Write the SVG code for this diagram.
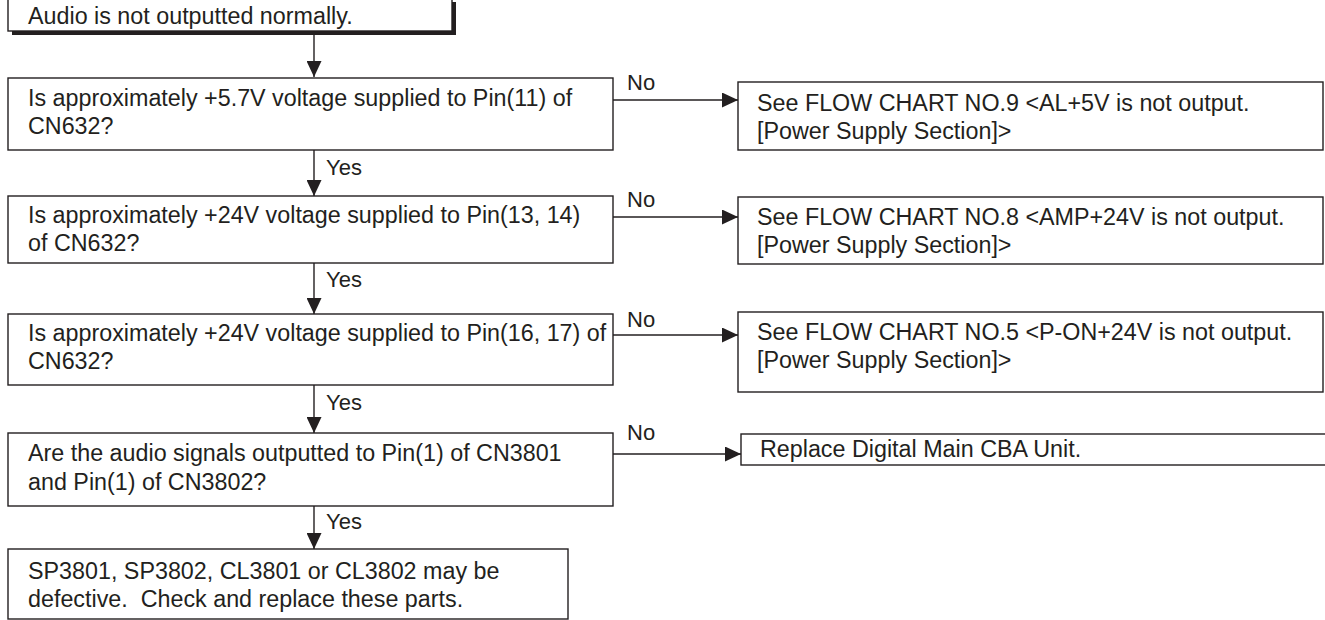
<svg xmlns="http://www.w3.org/2000/svg" width="1325" height="620" viewBox="0 0 1325 620">
<style>
.box{fill:#fff;stroke:#231f20;stroke-width:1.4}
.t{font-family:"Liberation Sans",Arial,sans-serif;font-size:23.3px;fill:#231f20}
.l{font-family:"Liberation Sans",Arial,sans-serif;font-size:22px;fill:#231f20}
.c{stroke:#231f20;stroke-width:1.4;fill:none}
</style>
<defs>
<marker id="ah" viewBox="0 0 16 15" refX="16" refY="7.5" markerWidth="16" markerHeight="15" markerUnits="userSpaceOnUse" orient="auto">
<path d="M0,0 L16,7.5 L0,15 Z" fill="#231f20"/>
</marker>
</defs>
<rect width="1325" height="620" fill="#fff"/>
<g id="connectors">
<line class="c" x1="314" y1="35" x2="314" y2="77" marker-end="url(#ah)"/>
<line class="c" x1="314" y1="150" x2="314" y2="196" marker-end="url(#ah)"/>
<line class="c" x1="314" y1="263" x2="314" y2="314" marker-end="url(#ah)"/>
<line class="c" x1="314" y1="385" x2="314" y2="433" marker-end="url(#ah)"/>
<line class="c" x1="314" y1="506" x2="314" y2="549" marker-end="url(#ah)"/>
<line class="c" x1="613" y1="100" x2="738" y2="100" marker-end="url(#ah)"/>
<line class="c" x1="613" y1="217" x2="738" y2="217" marker-end="url(#ah)"/>
<line class="c" x1="613" y1="335" x2="738" y2="335" marker-end="url(#ah)"/>
<line class="c" x1="613" y1="454" x2="741" y2="454" marker-end="url(#ah)"/>
<text class="l" x="326" y="175">Yes</text>
<text class="l" x="326" y="287">Yes</text>
<text class="l" x="326" y="410">Yes</text>
<text class="l" x="326" y="529">Yes</text>
<text class="l" x="627" y="90">No</text>
<text class="l" x="627" y="207">No</text>
<text class="l" x="627" y="327">No</text>
<text class="l" x="627" y="440">No</text>
</g>
<g id="start">
<rect x="12" y="2" width="444" height="33" fill="#231f20"/>
<rect class="box" x="8" y="-3" width="444" height="34"/>
<text class="t" x="28" y="24">Audio is not outputted normally.</text>
</g>
<g id="q1">
<rect class="box" x="8" y="78" width="605" height="72"/>
<text class="t" x="28" y="106">Is approximately +5.7V voltage supplied to Pin(11) of</text>
<text class="t" x="28" y="134">CN632?</text>
</g>
<g id="r1">
<rect class="box" x="738" y="82" width="585" height="68"/>
<text class="t" x="757" y="111">See FLOW CHART NO.9 &lt;AL+5V is not output.</text>
<text class="t" x="757" y="139">[Power Supply Section]&gt;</text>
</g>
<g id="q2">
<rect class="box" x="8" y="196" width="605" height="67"/>
<text class="t" x="28" y="223">Is approximately +24V voltage supplied to Pin(13, 14)</text>
<text class="t" x="28" y="251">of CN632?</text>
</g>
<g id="r2">
<rect class="box" x="738" y="197" width="585" height="67"/>
<text class="t" x="757" y="225">See FLOW CHART NO.8 &lt;AMP+24V is not output.</text>
<text class="t" x="757" y="253">[Power Supply Section]&gt;</text>
</g>
<g id="q3">
<rect class="box" x="8" y="314" width="605" height="71"/>
<text class="t" x="28" y="341">Is approximately +24V voltage supplied to Pin(16, 17) of</text>
<text class="t" x="28" y="369">CN632?</text>
</g>
<g id="r3">
<rect class="box" x="738" y="312" width="585" height="80"/>
<text class="t" x="757" y="340">See FLOW CHART NO.5 &lt;P-ON+24V is not output.</text>
<text class="t" x="757" y="368">[Power Supply Section]&gt;</text>
</g>
<g id="q4">
<rect class="box" x="8" y="433" width="605" height="73"/>
<text class="t" x="28" y="461">Are the audio signals outputted to Pin(1) of CN3801</text>
<text class="t" x="28" y="490">and Pin(1) of CN3802?</text>
</g>
<g id="r4">
<rect class="box" x="741" y="434" width="600" height="31"/>
<text class="t" x="760" y="457">Replace Digital Main CBA Unit.</text>
</g>
<g id="end">
<rect class="box" x="8" y="549" width="560" height="70"/>
<text class="t" x="28" y="579">SP3801, SP3802, CL3801 or CL3802 may be</text>
<text class="t" x="28" y="607" xml:space="preserve">defective.  Check and replace these parts.</text>
</g>
</svg>
